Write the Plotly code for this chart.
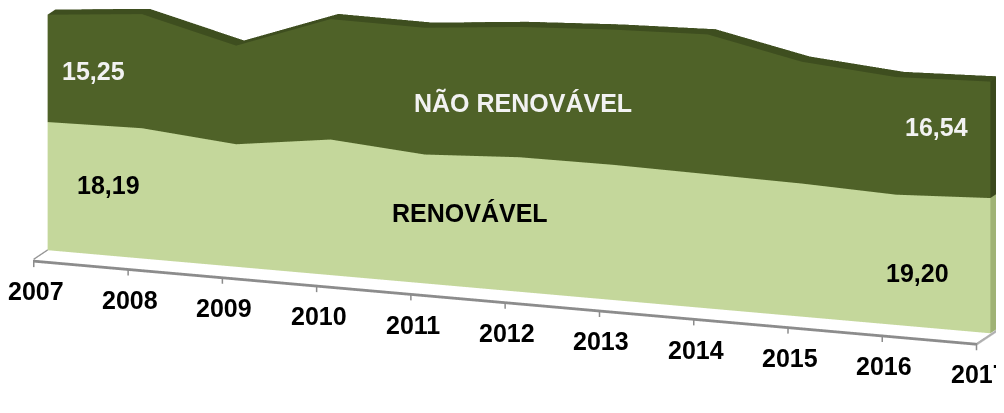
import plotly.graph_objects as go

# ---- data -------------------------------------------------------------
years = [2007, 2008, 2009, 2010, 2011, 2012, 2013, 2014, 2015, 2016, 2017]
renovavel = [18.19, 18.50, 17.40, 19.25, 18.30, 19.10, 19.20, 19.05, 18.90, 18.50, 19.20]
nao_renovavel = [15.25, 16.20, 14.00, 17.10, 18.00, 18.50, 19.20, 19.85, 17.30, 16.70, 16.54]
tick_labels = ["2007", "2008", "2009", "2010", "2011", "2012", "2013", "2014", "2015", "2016", "2017"]
series_names = ["RENOVÁVEL", "NÃO RENOVÁVEL"]

# ---- styling ----------------------------------------------------------
LIGHT = "#c4d79b"
LIGHT_TOP = "#a9bd7e"
LIGHT_SIDE = "#9fb274"
DARK = "#4f6228"
DARK_TOP = "#3e4e1f"
DARK_SIDE = "#3a481c"
AXIS = "#8c8c8c"
FONT = "Liberation Sans, Arial, sans-serif"

DEPTH = 0.8        # depth of the area band (y data units)
FLOOR_FRONT = -1.4 # front edge of the floor
FLOOR_Z = -0.05    # floor sits just under the band
FLOOR_EDGE = 0.4   # visible thickness of the floor's front edge (value units)
TICK_LEN = 1.1     # tick length in value units
ZOOM = 1.406

flat = dict(ambient=1.0, diffuse=0.0, specular=0.0, roughness=1.0, fresnel=0.0)


def quad(xs, ys, zs, color):
    return go.Mesh3d(x=xs, y=ys, z=zs, i=[0, 0], j=[1, 2], k=[2, 3], color=color,
                     flatshading=True, lighting=flat, hoverinfo="skip")


def band_traces(lower, upper, front_col, top_col, side_col, name):
    n = len(years)
    fx, fy, fz, fi, fj, fk = [], [], [], [], [], []
    for i in range(n):
        fx += [years[i], years[i]]
        fy += [0, 0]
        fz += [lower[i], upper[i]]
    for i in range(n - 1):
        a, b, c, d = 2 * i, 2 * i + 1, 2 * i + 2, 2 * i + 3
        fi += [a, a]
        fj += [c, d]
        fk += [d, b]
    front = go.Mesh3d(x=fx, y=fy, z=fz, i=fi, j=fj, k=fk, color=front_col,
                      flatshading=True, lighting=flat, hoverinfo="skip", name=name)
    tx, ty, tz, ti, tj, tk = [], [], [], [], [], []
    for i in range(n):
        tx += [years[i], years[i]]
        ty += [0, DEPTH]
        tz += [upper[i], upper[i]]
    for i in range(n - 1):
        a, b, c, d = 2 * i, 2 * i + 1, 2 * i + 2, 2 * i + 3
        ti += [a, a]
        tj += [c, d]
        tk += [d, b]
    top = go.Mesh3d(x=tx, y=ty, z=tz, i=ti, j=tj, k=tk, color=top_col,
                    flatshading=True, lighting=flat, hoverinfo="skip")
    xe = years[-1]
    side = quad([xe, xe, xe, xe], [0, DEPTH, DEPTH, 0],
                [lower[-1], lower[-1], upper[-1], upper[-1]], side_col)
    return [front, top, side]


base = [0.0] * len(years)
tot = [r + n for r, n in zip(renovavel, nao_renovavel)]

fig = go.Figure()

# floor: top surface, front edge (category axis line) and right edge
x0, x1 = years[0], years[-1]
fig.add_trace(quad([x0, x1, x1, x0], [FLOOR_FRONT, FLOOR_FRONT, DEPTH, DEPTH],
                   [FLOOR_Z] * 4, "#ffffff"))
fig.add_trace(quad([x0, x1, x1, x0], [FLOOR_FRONT] * 4,
                   [FLOOR_Z - FLOOR_EDGE, FLOOR_Z - FLOOR_EDGE, FLOOR_Z, FLOOR_Z], AXIS))
fig.add_trace(quad([x1] * 4, [FLOOR_FRONT, DEPTH, DEPTH, FLOOR_FRONT],
                   [FLOOR_Z - FLOOR_EDGE, FLOOR_Z - FLOOR_EDGE, FLOOR_Z, FLOOR_Z], "#b0b0b0"))

for tr in band_traces(base, renovavel, LIGHT, LIGHT_TOP, LIGHT_SIDE, series_names[0]):
    fig.add_trace(tr)
for tr in band_traces(renovavel, tot, DARK, DARK_TOP, DARK_SIDE, series_names[1]):
    fig.add_trace(tr)

# floor left edge and ticks
lx = [years[0], years[0]]
ly = [FLOOR_FRONT, DEPTH * 0.2]
lz = [0, 0]
for yv in years:
    lx += [None, yv, yv]
    ly += [None, FLOOR_FRONT, FLOOR_FRONT]
    lz += [None, FLOOR_Z, -TICK_LEN]
fig.add_trace(go.Scatter3d(x=lx, y=ly, z=lz, mode="lines",
                           line=dict(color=AXIS, width=3), hoverinfo="skip"))

# ---- annotations ------------------------------------------------------
ann = []
for yv, lab in zip(years, tick_labels):
    ann.append(dict(x=yv, y=FLOOR_FRONT, z=0, text="<b>" + lab + "</b>",
                    showarrow=False, yshift=-32, xshift=2,
                    font=dict(family=FONT, size=25, color="#000000")))

ann += [
    dict(x=years[0] + 0.49, y=0, z=renovavel[0] + nao_renovavel[0] * 0.51,
         text="<b>15,25</b>", showarrow=False,
         font=dict(family=FONT, size=25, color="#f2f2f2")),
    dict(x=years[0] + 0.65, y=0, z=renovavel[0] * 0.55,
         text="<b>18,19</b>", showarrow=False,
         font=dict(family=FONT, size=25, color="#000000")),
    dict(x=years[-1] - 0.57, y=0, z=renovavel[-1] + nao_renovavel[-1] * 0.57,
         text="<b>16,54</b>", showarrow=False,
         font=dict(family=FONT, size=25, color="#f2f2f2")),
    dict(x=years[-1] - 0.77, y=0, z=renovavel[-1] * 0.40,
         text="<b>19,20</b>", showarrow=False,
         font=dict(family=FONT, size=25, color="#000000")),
    dict(x=2012.04, y=0, z=renovavel[6] + nao_renovavel[6] * 0.40,
         text="<b>" + series_names[1] + "</b>", showarrow=False,
         font=dict(family=FONT, size=25, color="#f2f2f2")),
    dict(x=2011.48, y=0, z=renovavel[5] * 0.55,
         text="<b>" + series_names[0] + "</b>", showarrow=False,
         font=dict(family=FONT, size=25, color="#000000")),
]

ax_common = dict(visible=False, showgrid=False, zeroline=False, showbackground=False,
                 showticklabels=False, showspikes=False, title="")

fig.update_layout(
    width=1004, height=413,
    margin=dict(l=0, r=0, t=0, b=0),
    paper_bgcolor="#ffffff",
    showlegend=False,
    scene=dict(
        domain=dict(x=[0, 1], y=[0, 1]),
        xaxis=dict(range=[2006.95, 2017.05], **ax_common),
        yaxis=dict(range=[FLOOR_FRONT - 0.01, DEPTH], **ax_common),
        zaxis=dict(range=[-2, 40], **ax_common),
        aspectmode="manual",
        aspectratio=dict(x=3.49 * ZOOM, y=0.22 * ZOOM, z=1.05 * ZOOM),
        camera=dict(
            projection=dict(type="orthographic"),
            eye=dict(x=0.414, y=-1.223, z=0.05),
            center=dict(x=-0.031, y=0, z=-0.275),
            up=dict(x=0, y=0, z=1),
        ),
        annotations=ann,
        bgcolor="#ffffff",
    ),
)

fig.write_html("out.html")
